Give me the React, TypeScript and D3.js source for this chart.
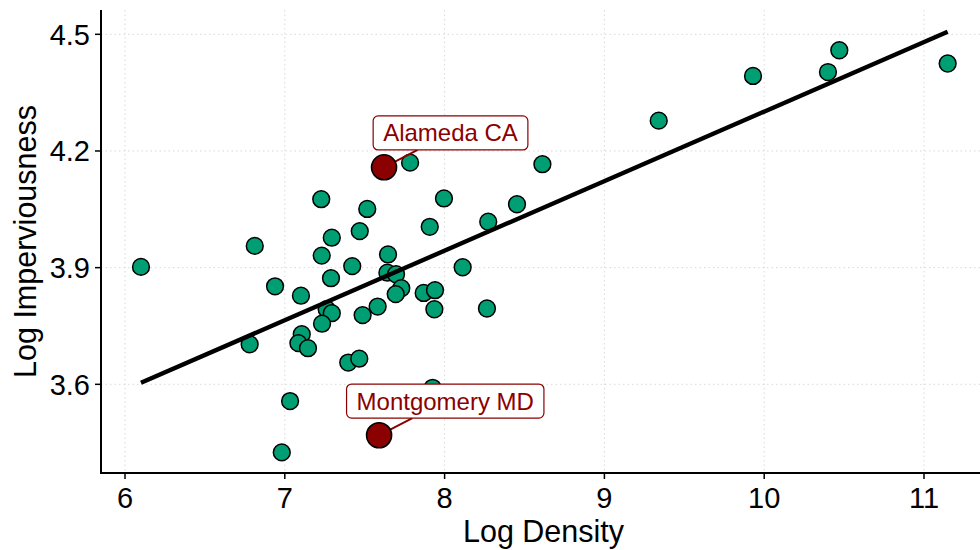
import React from "react";
import * as d3 from "d3";

// Log density (x) and log imperviousness (y) for counties
const densityValues = [
  6.100, 6.812, 6.939, 6.780, 7.101, 7.106, 7.085, 7.145, 7.033, 6.981,
  7.228, 7.231, 7.294, 7.289, 7.262, 7.294, 7.233, 7.422, 7.469, 7.516,
  7.487, 7.581, 7.397, 7.466, 7.646, 7.642, 7.696, 7.729, 7.694, 7.784,
  7.869, 7.940, 7.936, 7.907, 7.996, 8.113, 8.265, 8.273, 8.453, 8.612,
  7.925, 9.340, 9.930, 10.399, 10.470, 11.148,
];
const imperviousValues = [
  3.902, 3.956, 3.852, 3.703, 3.828, 3.729, 3.706, 3.693, 3.557, 3.425,
  4.076, 3.931, 3.977, 3.873, 3.793, 3.783, 3.756, 3.904, 3.994, 4.051,
  3.778, 3.800, 3.656, 3.666, 3.934, 3.887, 3.883, 3.847, 3.832, 4.170,
  3.835, 3.842, 3.793, 4.005, 4.078, 3.901, 3.795, 4.018, 4.063, 4.166,
  3.591, 4.278, 4.393, 4.403, 4.459, 4.425,
];

// Highlighted counties
const highlightNames = ["Alameda CA", "Montgomery MD"];
const highlightDensity = [7.621, 7.590];
const highlightImpervious = [4.158, 3.469];
const labelDensity = [8.037, 8.004];
const labelImpervious = [4.2463, 3.557];

// Linear fit
const fitIntercept = 2.5133;
const fitSlope = 0.1788;

const xTicks = [6, 7, 8, 9, 10, 11];
const yTicks = [3.6, 3.9, 4.2, 4.5];
const xTitle = "Log Density";
const yTitle = "Log Imperviousness";

const W = 980;
const H = 550;
const FONT = "'Liberation Sans', Arial, Helvetica, sans-serif";

export default function App() {
  const left = 101, right = 980, top = 10, bottom = 473;
  const x = d3.scaleLinear().domain([5.8498, 11.3504]).range([left, right]);
  const y = d3.scaleLinear().domain([3.372, 4.5625]).range([bottom, top]);

  const points = densityValues.map((d, i) => ({ d, v: imperviousValues[i] }));
  const xMin = d3.min(densityValues) as number;
  const xMax = d3.max(densityValues) as number;
  const fitLine = d3.line<number>()
    .x((d) => x(d))
    .y((d) => y(fitIntercept + fitSlope * d));

  const labelFont = 24;
  const canvas = typeof document !== "undefined" ? document.createElement("canvas") : null;
  const ctx = canvas ? canvas.getContext("2d") : null;
  if (ctx) ctx.font = `${labelFont}px ${FONT}`;
  const labels = highlightNames.map((name, i) => ({
    name,
    cx: x(labelDensity[i]),
    cy: y(labelImpervious[i]),
    px: x(highlightDensity[i]),
    py: y(highlightImpervious[i]),
    tw: ctx ? ctx.measureText(name).width : name.length * 12,
  }));
  const boxH = 34;

  return (
    <svg width={W} height={H} style={{ display: "block", position: "absolute", left: 0, top: 0, background: "#fff" }}>
      {/* grid */}
      <g>
        {xTicks.map((t) => (
          <line key={"gx" + t} x1={x(t)} x2={x(t)} y1={top} y2={bottom}
            stroke="#d9d9d9" strokeWidth={1} strokeDasharray="1.5,3" />
        ))}
        {yTicks.map((t) => (
          <line key={"gy" + t} x1={left} x2={right} y1={y(t)} y2={y(t)}
            stroke="#d9d9d9" strokeWidth={1} strokeDasharray="1.5,3" />
        ))}
      </g>

      {/* green points */}
      <g>
        {points.map((p, i) => (
          <circle key={i} cx={x(p.d)} cy={y(p.v)} r={8.4} fill="#009E73" stroke="#000" strokeWidth={1.5} />
        ))}
      </g>

      {/* fit line */}
      <path d={fitLine([xMin, xMax]) || ""} stroke="#000" strokeWidth={4.4} fill="none" />

      {/* label connectors */}
      {labels.map((l, i) => {
        const boxBottom = l.cy + boxH / 2;
        const t = (boxBottom - l.py) / (l.cy - l.py);
        const ex = l.px + (l.cx - l.px) * t;
        return (
          <line key={"seg" + i} x1={l.px} y1={l.py} x2={ex} y2={boxBottom} stroke="#8B0000" strokeWidth={2} />
        );
      })}

      {/* highlighted points */}
      {highlightNames.map((n, i) => (
        <circle key={"h" + i} cx={x(highlightDensity[i])} cy={y(highlightImpervious[i])} r={12.5}
          fill="#8B0000" stroke="#000" strokeWidth={1.6} />
      ))}

      {/* labels */}
      {labels.map((l, i) => {
        const w = l.tw + 20;
        return (
          <g key={"lab" + i}>
            <rect x={l.cx - w / 2} y={l.cy - boxH / 2} width={w} height={boxH} rx={5} ry={5}
              fill="#fff" stroke="#8B0000" strokeWidth={1.2} />
            <text x={l.cx} y={l.cy + 8.5} textAnchor="middle" fontFamily={FONT} fontSize={labelFont} fill="#8B0000">
              {l.name}
            </text>
          </g>
        );
      })}

      {/* axes */}
      <line x1={left} x2={left} y1={top} y2={bottom + 1} stroke="#000" strokeWidth={2} />
      <line x1={left - 1} x2={right} y1={bottom} y2={bottom} stroke="#000" strokeWidth={2} />
      {xTicks.map((t) => (
        <g key={"xt" + t}>
          <line x1={x(t)} x2={x(t)} y1={bottom} y2={bottom + 6} stroke="#000" strokeWidth={1.5} />
          <text x={x(t)} y={507.5} textAnchor="middle" fontFamily={FONT} fontSize={29} fill="#000">{t}</text>
        </g>
      ))}
      {yTicks.map((t) => (
        <g key={"yt" + t}>
          <line x1={left - 6} x2={left} y1={y(t)} y2={y(t)} stroke="#000" strokeWidth={1.5} />
          <text x={90} y={y(t) + 10.5} textAnchor="end" fontFamily={FONT} fontSize={29} fill="#000">{t.toFixed(1)}</text>
        </g>
      ))}
      <text x={(left + right) / 2 + 3} y={541.5} textAnchor="middle" fontFamily={FONT} fontSize={30.5} fill="#000">{xTitle}</text>
      <text transform={`translate(36, ${(top + bottom) / 2}) rotate(-90)`} textAnchor="middle" fontFamily={FONT} fontSize={30.5} fill="#000">{yTitle}</text>
    </svg>
  );
}
